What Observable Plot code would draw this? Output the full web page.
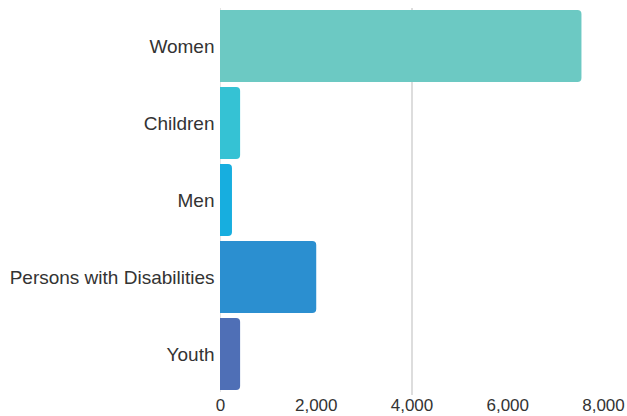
<!DOCTYPE html>
<html>
<head>
<meta charset="utf-8">
<script src="https://cdn.jsdelivr.net/npm/d3@7"></script>
<script src="https://cdn.jsdelivr.net/npm/@observablehq/plot@0.6"></script>
<style>
  html, body { margin: 0; padding: 0; background: #fff; }
  #chart svg { font-family: "Liberation Sans", Arial, sans-serif; }
</style>
</head>
<body>
<div id="chart"></div>
<script>
const categories = ["Women", "Children", "Men", "Persons with Disabilities", "Youth"];
const values = [7550, 420, 250, 2010, 420];
const colors = ["#6cc9c3", "#35c2d4", "#17aedf", "#2b8fd0", "#4f6fb6"];
const xTicks = [0, 2000, 4000, 6000, 8000];
const gridTicks = [4000];

const data = categories.map((c, i) => ({category: c, value: values[i]}));

const chart = Plot.plot({
  width: 627,
  height: 416,
  marginLeft: 220,
  marginRight: 24,
  marginTop: 8,
  marginBottom: 24,
  style: {fontSize: "17px", color: "#333", background: "#fff"},
  x: {domain: [0, 8000], ticks: xTicks, tickFormat: d3.format(","), label: null},
  y: {domain: categories, paddingInner: 0.06, paddingOuter: 0, label: null},
  color: {domain: categories, range: colors},
  marks: [
    Plot.ruleX(gridTicks, {stroke: "#bbb", strokeWidth: 1, insetBottom: -3}),
    Plot.ruleX([0], {stroke: "#e4e4e4"}),
    Plot.barX(data, {y: "category", x: "value", fill: "category", rx2: 4}),
    Plot.axisX({ticks: xTicks, tickSize: 0, tickPadding: 6, tickFormat: d3.format(","), label: null, fill: "#333", fontSize: 17}),
    Plot.axisY({tickSize: 0, tickPadding: 6, label: null, fill: "#333", fontSize: 19})
  ]
});
document.getElementById("chart").appendChild(chart);
</script>
</body>
</html>
